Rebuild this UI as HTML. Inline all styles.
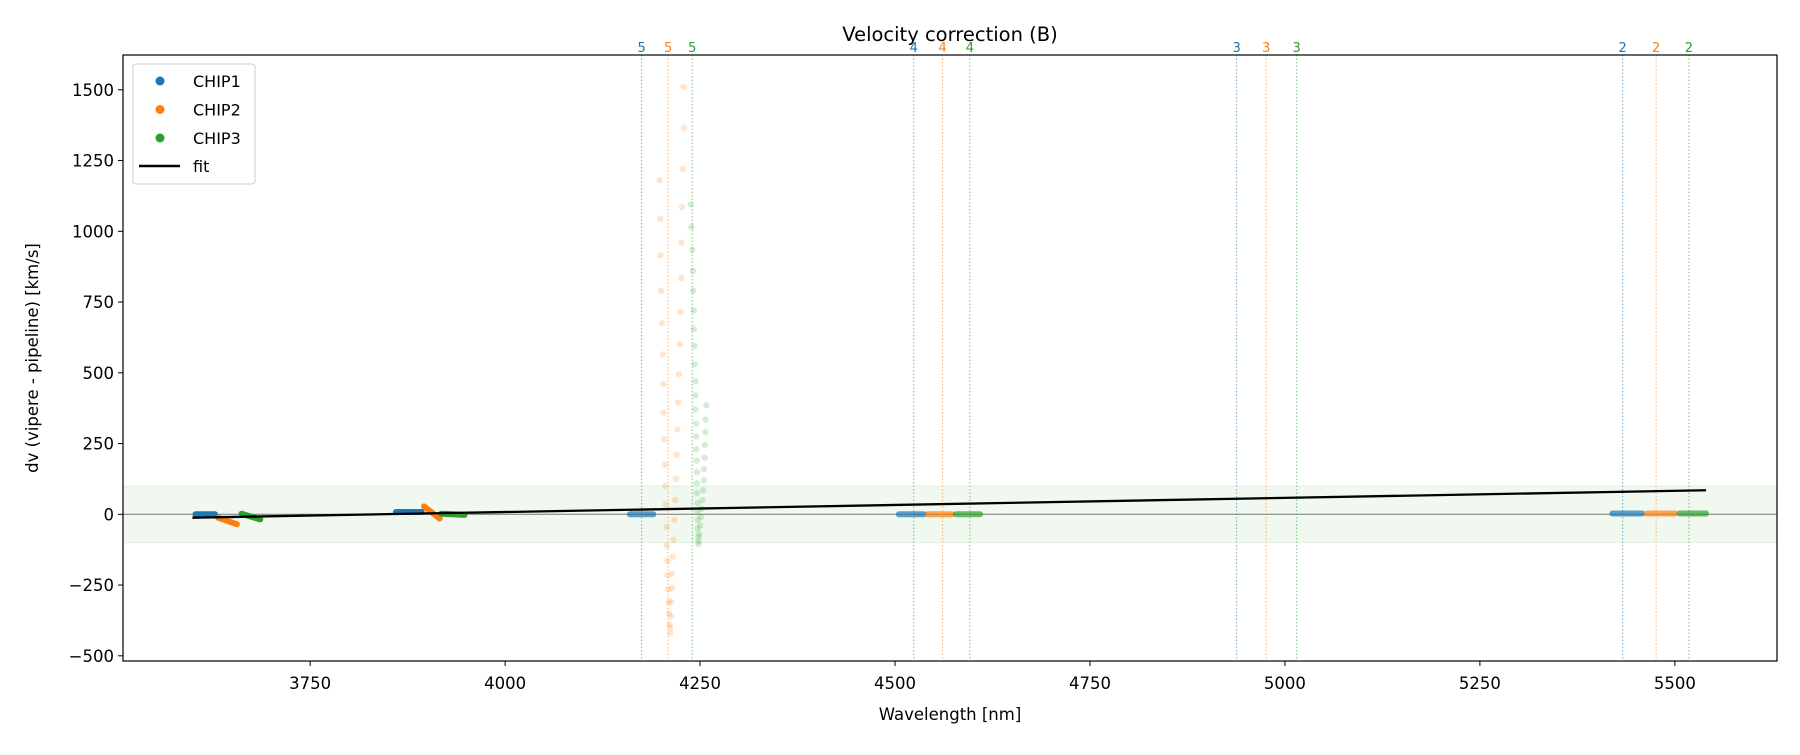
<!DOCTYPE html>
<html><head><meta charset="utf-8"><style>
body{margin:0;background:#fff;font-family:"Liberation Sans","DejaVu Sans",sans-serif;overflow:hidden}
</style></head><body>
<svg id="c" width="1800" height="750" xmlns="http://www.w3.org/2000/svg" font-family="DejaVu Sans, Liberation Sans, sans-serif"></svg>
<script>
const xTicks=[3750,4000,4250,4500,4750,5000,5250,5500];
const yTicks=[-500,-250,0,250,500,750,1000,1250,1500];
const orderLabels=["5","4","3","2"];
const chip1Lines=[4175,4524,4938,5433];
const chip2Lines=[4209,4561,4976,5476];
const chip3Lines=[4240,4596,5015,5518];
// dense clusters: [lamStart, lamEnd, dvStart, dvEnd]
const chip1Runs=[[3603,3628,0,0],[3860,3893,8,8],[4160,4190,0,0],[4505,4537,0,0],[5420,5458,3,3]];
const chip2Runs=[[3632,3656,-12,-35],[3896,3916,28,-15],[4542,4573,0,0],[5464,5500,3,3]];
const chip3Runs=[[3662,3686,2,-18],[3918,3948,2,-2],[4578,4609,0,0],[5506,5540,3,3]];
const orangeX=[4198,4199,4199,4200,4201,4202,4203,4203,4204,4205,4205,4206,4207,4207,4208,4208,4209,4210,4210,4211,4212,4229,4229,4228,4227,4226,4226,4225,4224,4223,4222,4221,4220,4219,4218,4217,4216,4215,4214,4214,4213,4213,4212];
const orangeY=[1180,1045,915,790,675,565,460,360,265,175,100,35,-45,-110,-165,-215,-265,-310,-350,-390,-420,1510,1365,1220,1085,960,835,715,600,495,395,300,210,125,50,-20,-90,-150,-210,-260,-310,-360,-400];
const greenX=[4238,4239,4240,4241,4241,4242,4242,4243,4243,4244,4244,4244,4245,4245,4245,4246,4246,4246,4246,4247,4247,4247,4247,4248,4248,4258,4257,4257,4256,4256,4255,4255,4254,4253,4252,4251,4250,4249,4248];
const greenY=[1095,1015,935,860,790,720,655,595,530,470,420,370,320,275,230,190,150,110,75,40,10,-20,-50,-80,-105,385,335,290,245,200,160,120,85,50,20,-10,-40,-70,-95];
const fitX=[3599,5540];
const fitY=[-12,85];

const L=123,R=1777,T=55,B=661;
const X=v=>L+(v-3510)/(5631-3510)*(R-L);
const Y=v=>514.3-v*141.5/500;
const svg=document.getElementById('c');
const NS='http://www.w3.org/2000/svg';
function mk(t,a,p){const e=document.createElementNS(NS,t);for(const k in a)e.setAttribute(k,a[k]);(p||svg).appendChild(e);return e;}
const C1='#1f77b4',C2='#ff7f0e',C3='#2ca02c';

let e=mk('rect',{x:L,y:Y(100),width:R-L,height:Y(-100)-Y(100),fill:'#2ca02c','fill-opacity':0.07,stroke:'#2ca02c','stroke-opacity':0.1});


e=mk('line',{x1:L,x2:R,y1:Y(0),y2:Y(0),stroke:'#777','stroke-width':1});



[[chip1Lines,C1],[chip2Lines,C2],[chip3Lines,C3]].forEach(([arr,col])=>{
 arr.forEach((v,i)=>{
  let l=mk('line',{x1:X(v),x2:X(v),y1:T,y2:B,stroke:col,'stroke-width':1.2,'stroke-dasharray':'1.5,2','stroke-opacity':0.5});
  
  
  let t=mk('text',{x:X(v),y:T-3,fill:col,'font-size':13,'text-anchor':'middle'});t.textContent=orderLabels[i];
  
  
 });
});

orangeX.forEach((v,i)=>{let c=mk('circle',{cx:X(v),cy:Y(orangeY[i]),r:3.2,fill:C2,'fill-opacity':0.2});
 
 });
greenX.forEach((v,i)=>{let c=mk('circle',{cx:X(v),cy:Y(greenY[i]),r:3.2,fill:C3,'fill-opacity':0.2});
 
 });

[[chip1Runs,C1,'chip1'],[chip2Runs,C2,'chip2'],[chip3Runs,C3,'chip3']].forEach(([arr,col,n])=>{
 arr.forEach((r,i)=>{
  let l=mk('line',{x1:X(r[0]),x2:X(r[1]),y1:Y(r[2]),y2:Y(r[3]),stroke:col,'stroke-width':6,'stroke-linecap':'round','stroke-opacity':i>=2?0.7:1});
  
  
 });
});

e=mk('line',{x1:X(fitX[0]),x2:X(fitX[1]),y1:Y(fitY[0]),y2:Y(fitY[1]),stroke:'#000','stroke-width':2.3});



e=mk('rect',{x:L,y:T,width:R-L,height:B-T,fill:'none',stroke:'#000','stroke-width':1.2});



xTicks.forEach(v=>{mk('line',{x1:X(v),x2:X(v),y1:B,y2:B+5,stroke:'#000'});
 let t=mk('text',{x:X(v),y:B+28,'font-size':16.5,'text-anchor':'middle'});t.textContent=v;
 
 });
yTicks.forEach(v=>{mk('line',{x1:L-5,x2:L,y1:Y(v),y2:Y(v),stroke:'#000'});
 let t=mk('text',{x:L-9,y:Y(v)+6,'font-size':16.5,'text-anchor':'end'});t.textContent=v<0?'\u2212'+(-v):v;
 
 });

e=mk('text',{x:(L+R)/2,y:41,'font-size':19.5,'text-anchor':'middle'});e.textContent='Velocity correction (B)';


e=mk('text',{x:(L+R)/2,y:720,'font-size':16.5,'text-anchor':'middle'});e.textContent='Wavelength [nm]';


e=mk('text',{x:38,y:(T+B)/2,'font-size':16.5,'text-anchor':'middle',transform:'rotate(-90 38 '+((T+B)/2)+')'});e.textContent='dv (vipere - pipeline) [km/s]';



const lg=mk('g',{});


mk('rect',{x:133,y:64,width:122,height:120,rx:3,fill:'#fff','fill-opacity':0.8,stroke:'#ccc'},lg);
[['CHIP1',C1],['CHIP2',C2],['CHIP3',C3]].forEach(([n,c],i)=>{
 const y=81+i*28.5;
 let m=mk('circle',{cx:160,cy:y,r:4.5,fill:c},lg);
 
 
 let t=mk('text',{x:193,y:y+6,'font-size':16},lg);t.textContent=n;
 
 
});
mk('line',{x1:139,x2:180,y1:166,y2:166,stroke:'#000','stroke-width':2.5},lg);
e=mk('text',{x:193,y:172,'font-size':16},lg);e.textContent='fit';


</script>
</body></html>
